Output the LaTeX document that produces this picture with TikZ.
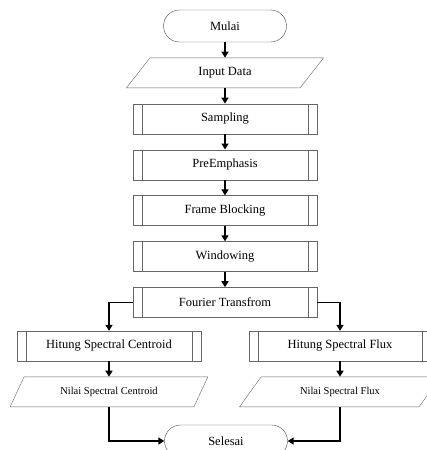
\documentclass[tikz,border=0pt]{standalone}
\usepackage{fontspec}
\setmainfont{Liberation Serif}
\usetikzlibrary{arrows.meta,positioning,shapes.geometric}

\begin{document}
\begin{tikzpicture}[
        x=1pt, y=-1pt,
        node distance=15.5pt and 20pt,
        term/.style={draw=black!70, rounded corners=16pt, align=center,
            font=\fontsize{12.5}{14}\selectfont, minimum width=123pt, minimum height=32pt},
        proc/.style={draw=black!60, align=center, font=\fontsize{12.5}{14}\selectfont,
            minimum width=184pt, minimum height=30pt,
            path picture={
                \draw[black!60] ([xshift=9pt]path picture bounding box.north west) -- ([xshift=9pt]path picture bounding box.south west);
                \draw[black!60] ([xshift=-9pt]path picture bounding box.north east) -- ([xshift=-9pt]path picture bounding box.south east);
            }},
        io/.style={draw=black!60, trapezium, trapezium stretches=true,
            trapezium left angle=62, trapezium right angle=118, align=center,
            font=\fontsize{12.5}{14}\selectfont, minimum width=198pt, minimum height=30pt},
        arr/.style={-{Triangle[length=6pt,width=7pt]}, line width=1.6pt}
    ]
        \useasboundingbox (0,0) rectangle (427,450);
        % main column
        \node[term] (mulai) at (225,26) {Mulai};
        \node[io, below=of mulai] (input) {Input Data};
        \node[proc, below=of input] (samp) {Sampling};
        \node[proc, below=of samp] (pre) {PreEmphasis};
        \node[proc, below=of pre] (frame) {Frame Blocking};
        \node[proc, below=of frame] (win) {Windowing};
        \node[proc, below=of win] (fft) {Fourier Transfrom};
        % two branches
        \node[proc] (hcen) at (109,346) {Hitung Spectral Centroid};
        \node[proc, minimum width=182pt] (hflux) at (340,346) {Hitung Spectral Flux};
        \node[io, below=of hcen, font=\fontsize{10.5}{12}\selectfont] (ncen) {Nilai Spectral Centroid};
        \node[io, below=of hflux, font=\fontsize{10.5}{12}\selectfont, minimum width=201pt,
            trapezium left angle=54, trapezium right angle=126] (nflux) {Nilai Spectral Flux};
        \node[term] (selesai) at (226,441) {Selesai};
        \draw[arr] (mulai) -- (input);
        \draw[arr] (input) -- (samp);
        \draw[arr] (samp) -- (pre);
        \draw[arr] (pre) -- (frame);
        \draw[arr] (frame) -- (win);
        \draw[arr] (win) -- (fft);
        \draw[arr] (fft.west) -| (hcen.north);
        \draw[arr] (fft.east) -| (hflux.north);
        \draw[arr] (hcen) -- (ncen);
        \draw[arr] (hflux) -- (nflux);
        \draw[arr] (ncen.south) |- (selesai.west);
        \draw[arr] (nflux.south) |- (selesai.east);
    \end{tikzpicture}
\end{document}
